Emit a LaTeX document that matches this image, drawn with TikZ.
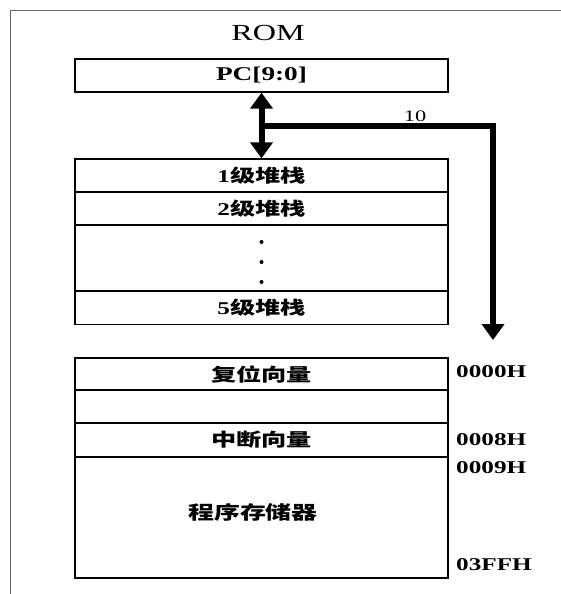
\documentclass[tikz,border=0pt]{standalone}
\usepackage{fontspec}
\setmainfont{Liberation Serif}[FakeStretch=1.4]
\newfontfamily\cjk{Noto Sans CJK SC}[FakeStretch=1.4]
\usetikzlibrary{arrows.meta,positioning,calc}

\begin{document}
\begin{tikzpicture}[x=1pt, y=-1pt,
    cell/.style={draw, line width=1.3pt, minimum width=373pt, inner sep=0pt,
                 font=\bfseries\fontsize{18}{20}\selectfont},
    addr/.style={anchor=west, inner sep=0pt, font=\bfseries\fontsize{18}{20}\selectfont},
    bus/.style={line width=6pt},
    head/.tip={Triangle[width=22pt,length=16pt]}]

  \useasboundingbox (0,0) rectangle (560,594);
  % outer frame
  \draw[gray!80!black, line width=1.2pt] (10.5,600) |- (570,10.5);

  \node[font=\fontsize{23}{23}\selectfont] (rom) at (268,33) {ROM};
  \node[cell, minimum height=33pt, font=\bfseries\fontsize{19.5}{20}\selectfont] (pc) at (261.5,75.5) {PC[9:0]};

  % stack
  \node[cell, minimum height=33pt] (s1) at (261.5,175.5) {1{\cjk 级堆栈}};
  \node[cell, minimum height=33pt] (s2) at (261.5,208.5) {2{\cjk 级堆栈}};
  \node[cell, minimum height=66pt] (sd) at (261.5,258) {};
  \node[cell, minimum height=33pt] (s5) at (261.5,308) {5{\cjk 级堆栈}};
  \foreach \dy in {-16,4,24}
    \fill (sd.center) ++(0,\dy) circle (2pt);

  % program memory
  \node[cell, minimum height=32pt] (rst) at (261.5,374) {\cjk 复位向量};
  \node[cell, minimum height=33pt] (gap) at (261.5,406.5) {};
  \node[cell, minimum height=34pt] (irq) at (261.5,440) {\cjk 中断向量};
  \node[cell, minimum height=121pt] (prog) at (261.5,517.5) {};
  \node[font=\bfseries\fontsize{18.5}{20}\selectfont] (progtxt) at (253,512) {\cjk 程序存储器};

  \node[addr] (a0) at (456,372) {0000H};
  \node[addr] (a8) at (456,440) {0008H};
  \node[addr] (a9) at (456,468) {0009H};
  \node[addr] (aend) at (456,565) {03FFH};

  % bus
  \draw[bus, head-head] (pc) -- (s1);
  \coordinate (jn) at ($(pc.south)!0.5!(s1.north)$);
  \coordinate (busend) at (493,340);
  \draw[bus, -head] (jn) -| (busend);
  \node[font=\fontsize{16}{16}\selectfont] (width) at (415,116) {10};
\end{tikzpicture}
\end{document}
